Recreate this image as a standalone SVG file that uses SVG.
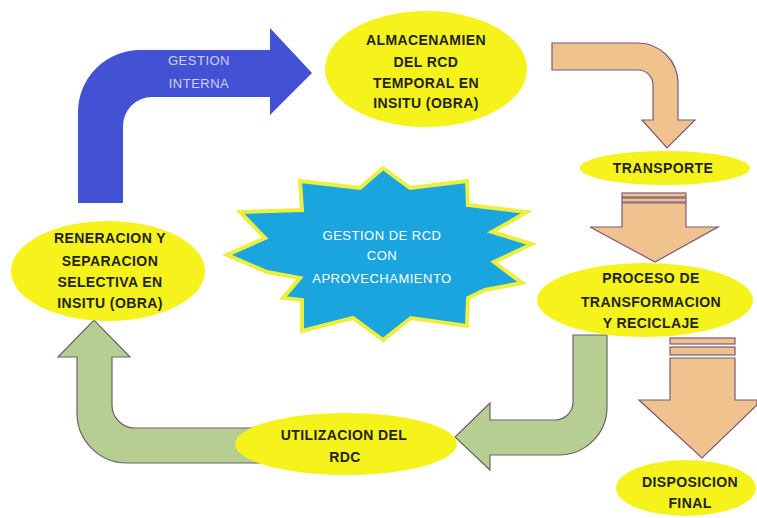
<svg xmlns="http://www.w3.org/2000/svg" width="757" height="518" viewBox="0 0 757 518">
<style>
.node ellipse{fill:#f6f21c;}
.t{font-family:"Liberation Sans",Arial,sans-serif;font-weight:bold;font-size:14px;fill:#1f2418;text-anchor:middle;letter-spacing:0.4px;}
.w{font-family:"Liberation Sans",Arial,sans-serif;font-size:13px;fill:#ffffff;text-anchor:middle;letter-spacing:0.5px;}
.tan{fill:#f0c28e;stroke:#7a5878;stroke-width:1.2;}
.green{fill:#b6ce91;stroke:#6e606e;stroke-width:1.2;}
</style>
<rect width="757" height="518" fill="#ffffff"/>
<g id="connectors">
  <g id="gestion-interna">
    <path d="M78,203 V112 A62,62 0 0 1 140,50 H270 V28 L312,73 L270,115 V97 H152 A29,29 0 0 0 123,126 V203 Z" fill="#4352d4"/>
    <text class="w" x="199" y="65" style="fill:#cdd0f3">GESTION</text>
    <text class="w" x="199" y="88" style="fill:#cdd0f3">INTERNA</text>
  </g>
  <path class="tan" d="M552,43 H638 A40,40 0 0 1 678,83 V120 H695 L667,148 L642,120 H653 V85 A15,15 0 0 0 638,70 H552 Z"/>
  <g>
    <rect class="tan" x="622" y="193" width="64" height="4"/>
    <rect class="tan" x="622" y="198" width="64" height="4"/>
    <path class="tan" d="M622,203 V227 H590 L655,262 L718,227 H686 V203 Z"/>
  </g>
  <g>
    <rect class="tan" x="670" y="338" width="65" height="6"/>
    <rect class="tan" x="670" y="347" width="65" height="8"/>
    <path class="tan" d="M670,358 V400 H639 L702,458 L757,405 V400 H735 V358 Z"/>
  </g>
  <path class="green" d="M607,335 V407 A48,48 0 0 1 559,455 H490 V470 L455,437 L490,403 V420 H555 A18,18 0 0 0 573,402 V335 Z"/>
  <path class="green" d="M260,463 H127 A50,50 0 0 1 77,413 V357 H58 L94,320 L130,357 H112 V405 A23,23 0 0 0 135,428 H260 Z"/>
</g>
<g id="gestion-rcd">
  <polygon points="383,168 410,188 467,181 468,205 527,212 492,232 532,244 494,262 522,283 485,290 468,298 467,326 411,318 383,340 353,318 302,331 302,300 283,298 300,278 267,272 227,255 265,238 240,212 302,210 300,181 360,188" fill="#1ba5de" stroke="#ecef3e" stroke-width="4" stroke-linejoin="miter"/>
  <text class="w" x="382" y="240">GESTION DE RCD</text>
  <text class="w" x="382" y="260">CON</text>
  <text class="w" x="382" y="283">APROVECHAMIENTO</text>
</g>
<g id="almacenamiento" class="node">
  <ellipse cx="426" cy="69" rx="101" ry="58"/>
  <text class="t" x="426" y="45">ALMACENAMIEN</text>
  <text class="t" x="426" y="67">DEL RCD</text>
  <text class="t" x="426" y="88">TEMPORAL EN</text>
  <text class="t" x="426" y="108">INSITU (OBRA)</text>
</g>
<g id="transporte" class="node">
  <ellipse cx="665" cy="168" rx="85" ry="17"/>
  <text class="t" x="663" y="173">TRANSPORTE</text>
</g>
<g id="proceso" class="node">
  <ellipse cx="645" cy="300" rx="108" ry="37"/>
  <text class="t" x="651" y="283">PROCESO DE</text>
  <text class="t" x="651" y="307">TRANSFORMACION</text>
  <text class="t" x="651" y="328">Y RECICLAJE</text>
</g>
<g id="disposicion" class="node">
  <ellipse cx="686" cy="488" rx="70" ry="28"/>
  <text class="t" x="690" y="487">DISPOSICION</text>
  <text class="t" x="690" y="508">FINAL</text>
</g>
<g id="utilizacion" class="node">
  <ellipse cx="346" cy="444" rx="111" ry="31"/>
  <text class="t" x="344" y="440">UTILIZACION DEL</text>
  <text class="t" x="345" y="462">RDC</text>
</g>
<g id="generacion" class="node">
  <ellipse cx="108" cy="271" rx="97" ry="50"/>
  <text class="t" x="110" y="243">RENERACION Y</text>
  <text class="t" x="110" y="266">SEPARACION</text>
  <text class="t" x="110" y="287">SELECTIVA EN</text>
  <text class="t" x="110" y="308">INSITU (OBRA)</text>
</g>
</svg>
